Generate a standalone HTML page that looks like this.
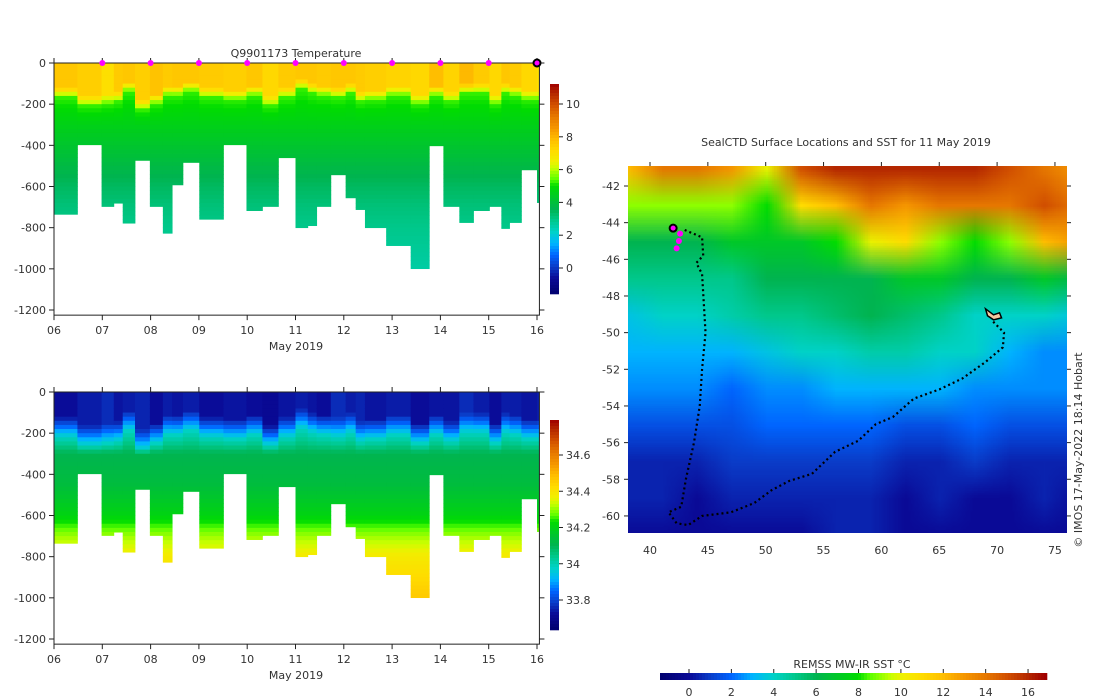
<!DOCTYPE html>
<html><head><meta charset="utf-8">
<style>
body{margin:0;background:#fff;width:1100px;height:700px;overflow:hidden;font-family:"DejaVu Sans","Liberation Sans",sans-serif;}
svg text{font-family:"DejaVu Sans","Liberation Sans",sans-serif;font-size:11px;fill:#333;}
#map{position:absolute;left:628px;top:166px;}
</style></head>
<body>
<canvas id="map" width="439" height="367"></canvas>
<svg id="s" width="1100" height="700" style="position:absolute;left:0;top:0"></svg>
<script>
// ---------- data ----------
const colStart=[6.0,6.485,6.985,7.238,7.423,7.677,7.985,8.254,8.446,8.669,9.008,9.508,9.985,10.315,10.646,11.0,11.254,11.438,11.731,12.038,12.246,12.438,12.877,13.385,13.769,14.062,14.392,14.685,15.015,15.262,15.431,15.677,16.0];
const colEnd=[6.485,6.985,7.238,7.423,7.677,7.985,8.254,8.446,8.669,9.008,9.508,9.985,10.315,10.646,11.0,11.254,11.438,11.731,12.038,12.246,12.438,12.877,13.385,13.769,14.062,14.392,14.685,15.015,15.262,15.431,15.677,16.0,16.04];
const maxDepth=[735,397,697,681,778,473,697,827,592,483,759,397,717,697,460,800,790,697,543,655,712,800,887,999,402,697,775,717,697,804,775,519,678];
const mld=[140,180,170,160,110,200,170,130,130,110,140,150,130,180,140,100,120,130,140,120,160,150,130,170,130,160,120,120,170,120,130,150,150];
const surfT=[7.6,7.4,7.0,7.5,7.6,7.4,7.7,7.5,7.6,7.6,7.5,7.4,7.6,7.2,7.5,7.6,7.6,7.5,7.6,7.6,7.5,7.4,7.3,7.2,7.8,7.3,7.9,7.5,7.2,7.6,7.5,7.2,7.0];
const surfS=[33.72,33.74,33.76,33.73,33.74,33.75,33.72,33.74,33.73,33.74,33.72,33.73,33.72,33.71,33.73,33.74,33.73,33.72,33.76,33.74,33.75,33.73,33.74,33.72,33.73,33.73,33.76,33.74,33.72,33.74,33.74,33.73,33.74];
const profDepth=[300,450,600,700,800,1000];
const profTemp=[4.6,4.0,3.4,3.1,2.9,2.6];
const profSal=[34.1,34.13,34.2,34.3,34.38,34.46];
const markDays=[7,8,9,10,11,12,13,14,15];
const tempTicks=[0,2,4,6,8,10];
const salTicks=[33.8,34,34.2,34.4,34.6];
const sstTicks=[0,2,4,6,8,10,12,14,16];
const sstLons=[38,41,44,47,50,53,56,59,62,65,68,71,74,77];
const sstLats=[-41,-43,-45,-47,-49,-51,-53,-55,-57,-59,-61];
const sst=[
[12,14,14,13,10,15,16,16,16,16,16,15,14,13],
[9,9,9,9,8,11,12,14,13,14,14,14,15,14],
[6,6,6,7,7,7,8,10,11,9,8,9,12,13],
[5,5,5,5,6,6,6,6,7,7,6,6,7,6],
[3.5,4,4,4.5,5,5,5.5,6,5.5,5,4,4,4,3.5],
[3,3,3,3,3.5,4,4,4.5,4.5,4,4,3,2.5,2.5],
[2.5,2.5,2.5,2,2.5,2.5,3,3,3,3,2.5,2.5,2.5,2.5],
[1.5,1.5,1.5,1.5,2,2,2,2,1.5,1.5,2,1.5,1.5,1.5],
[0.5,0.5,0.5,1,1,1,1,1,0.5,0.5,1,0.5,0.5,0.5],
[0.5,0.5,0,0.5,0.5,0.5,0.5,0.5,0,0.5,0,0,0.5,0],
[0,0,0,0,0,0,0.5,0.5,0,0,0,0,0,0]];
const trackLon=[43.0,44.5,44.6,44.0,44.5,44.8,44.5,44.3,43.8,43.1,42.7,41.6,42.3,43.3,44.5,47,49,50.5,52,54,56,58,59.5,61,62.8,65,67,69,70.5,70.6,69.5];
const trackLat=[-44.4,-44.8,-45.8,-46.2,-46.8,-50,-52,-54,-56,-58,-59.5,-59.8,-60.4,-60.5,-60.0,-59.8,-59.3,-58.6,-58.1,-57.7,-56.5,-55.9,-55,-54.6,-53.6,-53.1,-52.5,-51.6,-50.8,-50,-49.3];
const mapMarkLon=[42.3,42.5,42.6];
const mapMarkLat=[-45.4,-45.0,-44.6];
const latTicks=[-42,-44,-46,-48,-50,-52,-54,-56,-58,-60];
const lonTicks=[40,45,50,55,60,65,70,75];

// ---------- colormap ----------
const stops=[[0,[0,0,110]],[0.075,[10,10,150]],[0.13,[10,60,200]],[0.185,[0,100,255]],[0.24,[0,180,255]],[0.295,[0,210,200]],[0.35,[0,200,140]],[0.405,[0,180,80]],[0.46,[0,200,40]],[0.515,[0,220,0]],[0.545,[90,255,0]],[0.6,[200,255,0]],[0.63,[240,240,0]],[0.68,[255,220,0]],[0.735,[255,190,0]],[0.79,[245,150,0]],[0.845,[230,120,0]],[0.9,[210,80,0]],[0.955,[180,40,0]],[1,[160,0,0]]];
function cmap(f){f=Math.max(0,Math.min(1,f));for(let i=1;i<stops.length;i++){if(f<=stops[i][0]){const a=stops[i-1],b=stops[i];const t=(f-a[0])/(b[0]-a[0]);const c=a[1].map((v,k)=>Math.round(v+(b[1][k]-v)*t));return `rgb(${c[0]},${c[1]},${c[2]})`;}}return 'rgb(160,0,0)';}
function interp(z,xs,ys){if(z<=xs[0])return ys[0];for(let i=1;i<xs.length;i++)if(z<=xs[i])return ys[i-1]+(ys[i]-ys[i-1])*(z-xs[i-1])/(xs[i]-xs[i-1]);return ys[ys.length-1];}

// ---------- scales ----------
const xT=d=>54+(d-6)*48.3;
const yTop=z=>63+z*247/1200;
const yBot=z=>392+z*247/1200;
const tCb=v=>268-v*16.4, tMin=-1.6,tMax=11.2;
const sCb=v=>600-(v-33.8)*181.25, sMin=33.63,sMax=34.79;
const sstX=v=>689+v*21.19, sstMin=-1.37,sstMax=16.8;
const lonX=l=>650+(l-40)*11.57;
const latY=l=>186+(-42-l)*18.33;

const S=document.getElementById('s');const NS='http://www.w3.org/2000/svg';
function el(t,a,p){const e=document.createElementNS(NS,t);for(const k in a)e.setAttribute(k,a[k]);(p||S).appendChild(e);return e;}
function txt(x,y,s,anchor,extra){const e=el('text',Object.assign({x:x,y:y,'text-anchor':anchor||'middle'},extra||{}));e.textContent=s;return e;}

// ---------- profile panels ----------
function panel(yf,kind,name){
  const g=el('g',{});
  
  
  for(let i=0;i<colStart.length;i++){
    const x0=xT(colStart[i]),x1=xT(colEnd[i]);
    for(let z=0;z<maxDepth[i];z+=20){
      const zc=z+10;let v,f;
      const m=mld[i];
      if(kind==='t'){
        const deep=interp(zc,[m+30].concat(profDepth),[5.2].concat(profTemp));
        v = zc<m-20?surfT[i]: zc<m+30? surfT[i]+(5.2-surfT[i])*(zc-m+20)/50 : deep;
        f=(v-tMin)/(tMax-tMin);
      } else {
        const deep=interp(zc,[m+80].concat(profDepth),[33.98].concat(profSal));
        v = zc<m-20?surfS[i]: zc<m+80? surfS[i]+(33.98-surfS[i])*(zc-m+20)/100 : deep;
        f=(v-sMin)/(sMax-sMin);
      }
      const h=Math.min(20,maxDepth[i]-z);
      const r=el('rect',{x:x0,y:yf(z),width:x1-x0+0.4,height:yf(z+h)-yf(z)+0.4,fill:cmap(f)},g);
      
      
    }
  }
  const axB=yf(1225);
  el('rect',{x:54,y:yf(0),width:xT(16.05)-54,height:axB-yf(0),fill:'none',stroke:'#222','stroke-width':1},g);
  for(let z=0;z<=1200;z+=200){
    el('line',{x1:49,x2:54,y1:yf(z),y2:yf(z),stroke:'#222'},g);
    el('line',{x1:xT(16.05),x2:xT(16.05)+5,y1:yf(z),y2:yf(z),stroke:'#222'},g);
    const t=txt(46,yf(z)+4,z===0?'0':'-'+z,'end');g.appendChild(t);
  }
  for(let d=6;d<=16;d++){
    el('line',{x1:xT(d),x2:xT(d),y1:axB,y2:axB+5,stroke:'#222'},g);
    el('line',{x1:xT(d),x2:xT(d),y1:yf(0)-5,y2:yf(0),stroke:'#222'},g);
    g.appendChild(txt(xT(d),axB+19,(d<10?'0':'')+d));
  }
  const lab=txt(296,axB+35,'May 2019');g.appendChild(lab);
}
panel(yTop,'t','temperature-section');
panel(yBot,'s','salinity-section');
const tt=txt(296,57,'Q9901173  Temperature',null,{'font-size':'12'});
markDays.forEach(d=>{const c=el('circle',{cx:xT(d),cy:63,r:3,fill:'#ff00ff'});});
const lastM=el('circle',{cx:xT(16),cy:63,r:3.5,fill:'#ff00ff',stroke:'#000','stroke-width':2});



// ---------- vertical colorbars ----------
function vbar(ytop,ybot,vmin,vmax,ticks,yf,name,fmt){
  const g=el('g',{});
  
  
  for(let y=ytop;y<ybot;y+=3){const f=1-(y+1.5-ytop)/(ybot-ytop);el('rect',{x:550,y:y,width:9,height:3.3,fill:cmap(f)},g);}
  ticks.forEach(v=>{el('line',{x1:559,x2:563,y1:yf(v),y2:yf(v),stroke:'#222'},g);g.appendChild(txt(566,yf(v)+4,fmt(v),'start'));});
}
vbar(84,294,tMin,tMax,tempTicks,tCb,'temperature-colorbar',v=>String(v));
vbar(420,630,sMin,sMax,salTicks,sCb,'salinity-colorbar',v=>(Math.round(v*10)/10).toString());

// ---------- map ----------
(function(){
  const off=document.createElement('canvas');off.width=sstLons.length;off.height=sstLats.length;
  const oc=off.getContext('2d');
  for(let r=0;r<sstLats.length;r++)for(let c=0;c<sstLons.length;c++){oc.fillStyle=cmap((sst[r][c]-sstMin)/(sstMax-sstMin));oc.fillRect(c,r,1,1);}
  const cv=document.getElementById('map');const ctx=cv.getContext('2d');ctx.imageSmoothingEnabled=true;
  const dx=(lonX(41)-lonX(38))/2, dy=(latY(-43)-latY(-41))/2;
  const x0=lonX(sstLons[0])-628-dx, x1=lonX(sstLons[sstLons.length-1])-628+dx;
  const y0=latY(sstLats[0])-166-dy, y1=latY(sstLats[sstLats.length-1])-166+dy;
  ctx.drawImage(off,x0,y0,x1-x0,y1-y0);
})();
const mt=txt(846,146,'SealCTD Surface Locations and SST for 11 May 2019');
const mg=el('g',{});
latTicks.forEach(l=>{el('line',{x1:628,x2:624,y1:latY(l),y2:latY(l),stroke:'#222'},mg);el('line',{x1:1067,x2:1071,y1:latY(l),y2:latY(l),stroke:'#222'},mg);mg.appendChild(txt(620,latY(l)+4,String(l),'end'));});
lonTicks.forEach(l=>{el('line',{x1:lonX(l),x2:lonX(l),y1:166,y2:162,stroke:'#222'},mg);mg.appendChild(txt(lonX(l),554,String(l)));});
let pts=trackLon.map((l,i)=>lonX(l)+','+latY(trackLat[i])).join(' ');
const tr=el('polyline',{points:pts,fill:'none',stroke:'#000','stroke-width':2.2,'stroke-dasharray':'2 3'});


mapMarkLon.forEach((l,i)=>{const c=el('circle',{cx:lonX(l),cy:latY(mapMarkLat[i]),r:3,fill:'#ff00ff'});});
const cur=el('circle',{cx:lonX(42),cy:latY(-44.3),r:3.5,fill:'#ff00ff',stroke:'#000','stroke-width':2});


const isl=el('path',{d:`M${lonX(69)} ${latY(-48.7)} l8 6 l6 -2 l2 5 l-8 2 l-6 -4 z`,fill:'#f5c8a0',stroke:'#000','stroke-width':1.5});


const cp=txt(1082,450,'© IMOS 17-May-2022 18:14 Hobart','middle',{transform:'rotate(-90 1082 450)','font-size':'10'});


// ---------- SST colorbar ----------
const hg=el('g',{});
for(let x=660;x<1045;x+=3){const f=(x+1.5-660)/385;el('rect',{x:x,y:673,width:3.3,height:7,fill:cmap(f)},hg);}
sstTicks.forEach(v=>{el('line',{x1:sstX(v),x2:sstX(v),y1:669,y2:673,stroke:'#222'},hg);hg.appendChild(txt(sstX(v),696,String(v)));});
hg.appendChild(txt(852,668,'REMSS MW-IR SST °C'));
</script>
</body></html>
